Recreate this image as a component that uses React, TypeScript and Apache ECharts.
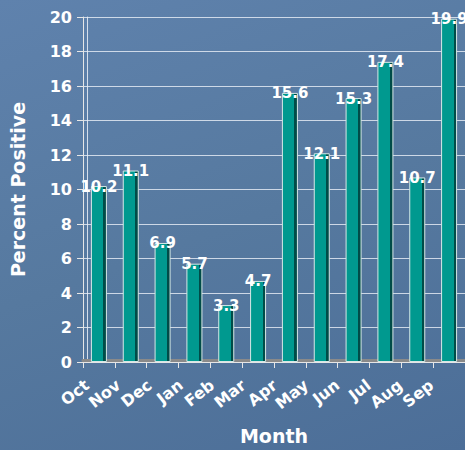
import React, { useEffect, useRef } from "react";
import * as echarts from "echarts";

const months = ["Oct", "Nov", "Dec", "Jan", "Feb", "Mar", "Apr", "May", "Jun", "Jul", "Aug", "Sep"];
const percentPositive = [10.2, 11.1, 6.9, 5.7, 3.3, 4.7, 15.6, 12.1, 15.3, 17.4, 10.7, 19.9];
const yTicks = { min: 0, max: 20, interval: 2 };

const FONT = "'DejaVu Sans', Verdana, Arial, sans-serif";

export default function App() {
  const ref = useRef<HTMLDivElement>(null);
  useEffect(() => {
    if (!ref.current) return;
    const chart = echarts.init(ref.current, undefined, { renderer: "svg" });
    const barColor = {
      type: "linear",
      x: 0,
      y: 0,
      x2: 1,
      y2: 0,
      colorStops: [
        { offset: 0, color: "#00998f" },
        { offset: 0.8, color: "#00998f" },
        { offset: 0.8, color: "#004c48" },
        { offset: 1, color: "#004c48" },
      ],
    };
    chart.setOption({
      animation: false,
      backgroundColor: "transparent",
      grid: [
        { left: 83, right: 0, top: 17, bottom: 88, containLabel: false },
        { left: 87, right: -4, top: 17, bottom: 88, containLabel: false },
      ],
      xAxis: [
        {
          type: "category",
          gridIndex: 0,
          data: months,
          position: "bottom",
          axisLine: { show: true, lineStyle: { color: "#e6e6e6", width: 1 } },
          axisTick: { show: true, length: 6, lineStyle: { color: "#e6e6e6", width: 1 } },
          axisLabel: { show: false },
          splitLine: { show: false },
          name: "Month",
          nameLocation: "middle",
          nameGap: 64,
          nameTextStyle: { color: "#ffffff", fontSize: 19, fontWeight: "bold", fontFamily: FONT },
        },
        {
          type: "category",
          gridIndex: 1,
          boundaryGap: false,
          data: [...months, ""],
          position: "bottom",
          axisLine: { show: false },
          axisTick: { show: false },
          axisLabel: {
            interval: 0,
            rotate: 38,
            margin: 21,
            color: "#ffffff",
            fontSize: 16,
            fontWeight: "bold",
            fontFamily: FONT,
          },
          splitLine: { show: false },
        },
        {
          type: "category",
          gridIndex: 0,
          data: months,
          position: "bottom",
          offset: -2,
          axisLine: { show: true, lineStyle: { color: "#8a8a8a", width: 3 } },
          axisTick: { show: false },
          axisLabel: { show: false },
          splitLine: { show: false },
        },
      ],
      yAxis: [
        {
          type: "value",
          gridIndex: 0,
          min: yTicks.min,
          max: yTicks.max,
          interval: yTicks.interval,
          axisLine: { show: true, lineStyle: { color: "#e6e6e6", width: 1 } },
          axisTick: { show: true, length: 6, lineStyle: { color: "#e6e6e6" } },
          axisLabel: {
            color: "#ffffff",
            fontSize: 16,
            fontWeight: "bold",
            fontFamily: FONT,
            margin: 11,
          },
          splitLine: { show: true, lineStyle: { color: "rgba(235,240,248,0.8)", width: 1 } },
          name: "Percent Positive",
          nameLocation: "middle",
          nameRotate: 90,
          nameGap: 56,
          nameTextStyle: { color: "#ffffff", fontSize: 19, fontWeight: "bold", fontFamily: FONT },
        },
        {
          type: "value",
          gridIndex: 0,
          min: yTicks.min,
          max: yTicks.max,
          interval: yTicks.interval,
          position: "left",
          offset: -4,
          axisLine: { show: true, lineStyle: { color: "rgba(235,240,248,0.85)", width: 1 } },
          axisTick: { show: false },
          axisLabel: { show: false },
          splitLine: { show: false },
        },
        {
          type: "value",
          gridIndex: 1,
          min: yTicks.min,
          max: yTicks.max,
          show: false,
        },
      ],
      series: [
        {
          type: "bar",
          xAxisIndex: 0,
          yAxisIndex: 0,
          data: percentPositive,
          barWidth: 16,
          itemStyle: { color: barColor, borderColor: "#d6e8e7", borderWidth: 1 },
          label: {
            show: true,
            position: "top",
            distance: -8,
            color: "#ffffff",
            fontSize: 15,
            fontWeight: "bold",
            fontFamily: FONT,
            formatter: (p: any) => Number(p.value).toFixed(1),
          },
          z: 3,
        },
      ],
    });
    return () => chart.dispose();
  }, []);
  return (
    <div
      style={{
        position: "fixed",
        left: 0,
        top: 0,
        width: 465,
        height: 450,
        overflow: "hidden",
        background: "linear-gradient(160deg, #5f82ad 0%, #56799f 50%, #4c6e98 100%)",
      }}
    >
      <div ref={ref} style={{ width: 465, height: 450 }} />
    </div>
  );
}
